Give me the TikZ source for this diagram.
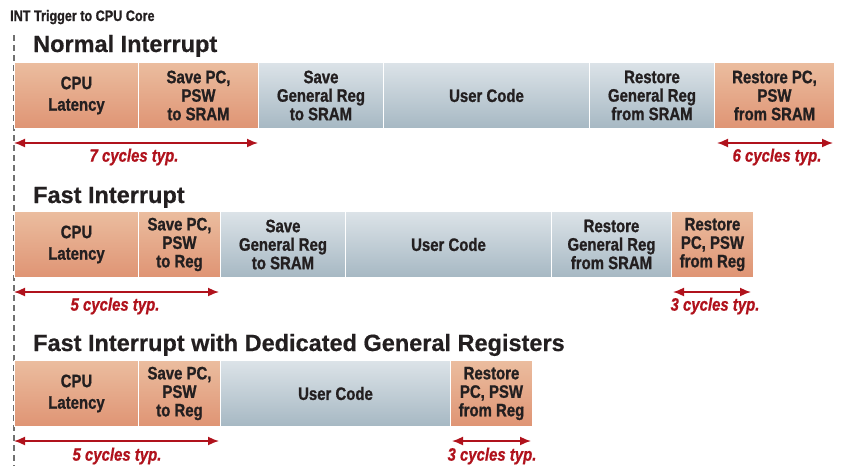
\documentclass[tikz,border=0pt]{standalone}
\usepackage{fontspec}
\setmainfont{Liberation Sans}[BoldFeatures={FakeBold=0.6}]
\newfontfamily\cond{Liberation Sans}[FakeStretch=0.83, BoldFeatures={FakeBold=1.0}, BoldItalicFeatures={FakeBold=0.8}]
\usetikzlibrary{arrows.meta}
\definecolor{ortop}{HTML}{EBBD9F}
\definecolor{orbot}{HTML}{DF9474}
\definecolor{bltop}{HTML}{DCE3E8}
\definecolor{blbot}{HTML}{A6B8C3}
\definecolor{ink}{HTML}{231F20}
\definecolor{cyc}{HTML}{B0121C}
\definecolor{dashc}{HTML}{707070}
\tikzset{
  seg/.style={anchor=north west, inner sep=0pt, minimum height=66pt, draw=white, line width=1pt,
    align=center, text=ink, font=\cond\bfseries\fontsize{18}{18.5}\selectfont},
  orseg/.style={seg, top color=ortop, bottom color=orbot},
  blseg/.style={seg, top color=bltop, bottom color=blbot},
  ttl/.style={anchor=base west, inner sep=0pt, text=ink, font=\bfseries\fontsize{23.5}{25}\selectfont},
  cyclbl/.style={inner sep=0pt, text=cyc, font=\cond\bfseries\itshape\fontsize{18}{20}\selectfont},
  dim/.style={draw=cyc, line width=1.6pt, {Latex[length=11pt,width=9pt]}-{Latex[length=11pt,width=9pt]}}
}
\begin{document}
\begin{tikzpicture}[x=1pt,y=-1pt]
\useasboundingbox (0,0) rectangle (841,466);
% header
\node[anchor=base west, inner sep=0pt, text=ink, font=\cond\bfseries\fontsize{15.2}{16}\selectfont] (hdr) at (10,21) {INT Trigger to CPU Core};
\coordinate (dtop) at (14,35);
\coordinate (dbot) at (14,466);
\draw[dashc, line width=1.2pt, dash pattern=on 6pt off 4pt] (dtop) -- (dbot);

% Row 1
\node[ttl] (t1) at (33,52) {Normal Interrupt};
\node[orseg, minimum width=124pt] (a1) at (14,62) {CPU\\[3pt]Latency};
\node[orseg, minimum width=120pt] (a2) at (138,62) {Save PC,\\PSW\\to SRAM};
\node[blseg, minimum width=125pt] (a3) at (258,62) {Save\\General Reg\\to SRAM};
\node[blseg, minimum width=206pt] (a4) at (383,62) {User Code};
\node[blseg, minimum width=125pt] (a5) at (589,62) {Restore\\General Reg\\from SRAM};
\node[orseg, minimum width=120pt] (a6) at (714,62) {Restore PC,\\PSW\\from SRAM};
\coordinate (p1a) at (14,143);
\coordinate (p1b) at (258,143);
\coordinate (p1c) at (717,143);
\coordinate (p1d) at (833,143);
\draw[dim] (p1a) -- (p1b);
\draw[dim] (p1c) -- (p1d);
\node[cyclbl] (l1a) at (134,157) {7 cycles typ.};
\node[cyclbl] (l1b) at (777,157) {6 cycles typ.};

% Row 2
\node[ttl] (t2) at (33,203) {Fast Interrupt};
\node[orseg, minimum width=124pt] (b1) at (14,211) {CPU\\[3pt]Latency};
\node[orseg, minimum width=82pt] (b2) at (138,211) {Save PC,\\PSW\\to Reg};
\node[blseg, minimum width=125pt] (b3) at (220,211) {Save\\General Reg\\to SRAM};
\node[blseg, minimum width=206pt] (b4) at (345,211) {User Code};
\node[blseg, minimum width=120pt] (b5) at (551,211) {Restore\\General Reg\\from SRAM};
\node[orseg, minimum width=82pt] (b6) at (671,211) {Restore\\PC, PSW\\from Reg};
\coordinate (p2a) at (14,292);
\coordinate (p2b) at (219,292);
\coordinate (p2c) at (673,292);
\coordinate (p2d) at (751,292);
\draw[dim] (p2a) -- (p2b);
\draw[dim] (p2c) -- (p2d);
\node[cyclbl] (l2a) at (115,306) {5 cycles typ.};
\node[cyclbl] (l2b) at (715,306) {3 cycles typ.};

% Row 3
\node[ttl] (t3) at (33,351) {Fast Interrupt with Dedicated General Registers};
\node[orseg, minimum width=124pt] (c1) at (14,360) {CPU\\[3pt]Latency};
\node[orseg, minimum width=82pt] (c2) at (138,360) {Save PC,\\PSW\\to Reg};
\node[blseg, minimum width=230pt] (c3) at (220,360) {User Code};
\node[orseg, minimum width=82pt] (c4) at (450,360) {Restore\\PC, PSW\\from Reg};
\coordinate (p3a) at (14,441);
\coordinate (p3b) at (219,441);
\coordinate (p3c) at (452,441);
\coordinate (p3d) at (531,441);
\draw[dim] (p3a) -- (p3b);
\draw[dim] (p3c) -- (p3d);
\node[cyclbl] (l3a) at (117,456) {5 cycles typ.};
\node[cyclbl] (l3b) at (492,456) {3 cycles typ.};
\end{tikzpicture}
\end{document}
